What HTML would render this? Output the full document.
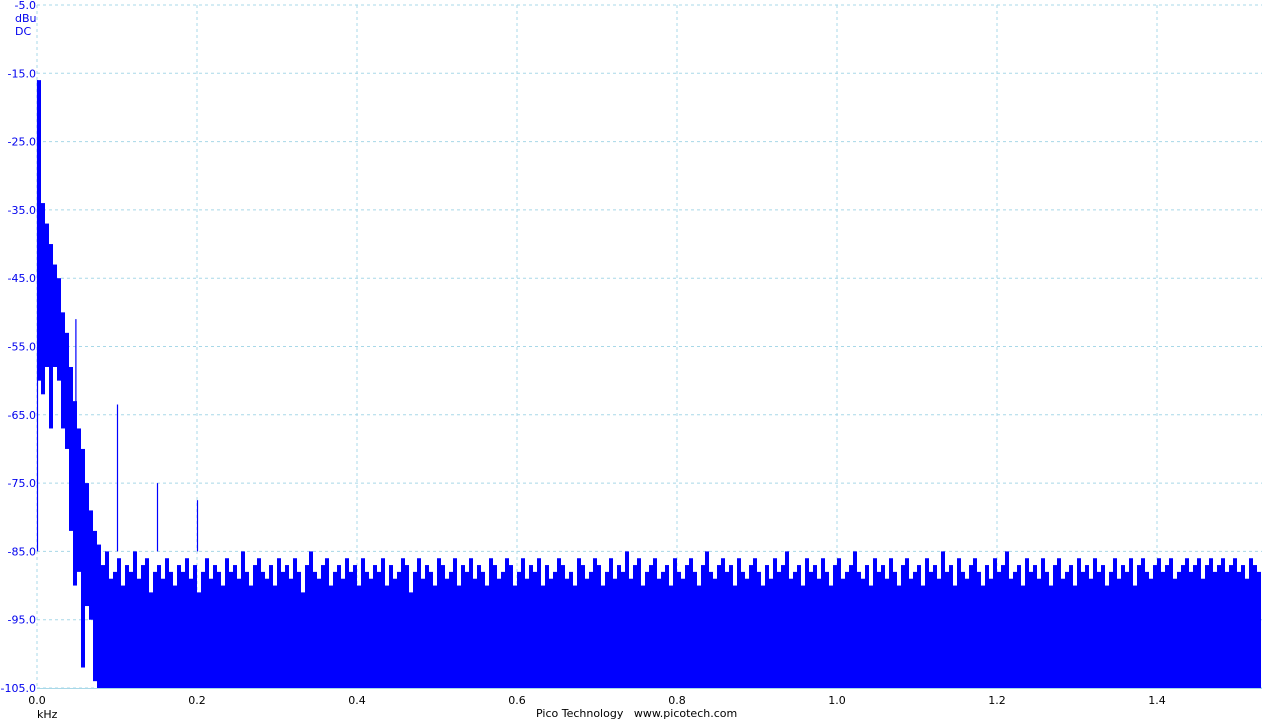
<!DOCTYPE html>
<html><head><meta charset="utf-8"><style>
html,body{margin:0;padding:0;background:#fff;width:1280px;height:720px;overflow:hidden}
svg{display:block}
text{font-family:"DejaVu Sans","Liberation Sans",sans-serif;font-size:11px}
</style></head><body>
<svg id="chart" width="1280" height="720"></svg>
<script>
// Frequency bins every 0.005 kHz; per-bin max/min level (dBu)
const binWidth = 0.005;
const leftMax = [-16,-34,-37,-40,-43,-45,-50,-53,-58,-63,-67,-70,-75,-79,-82,-84];
const leftMin = [-60,-62,-58,-67,-58,-60,-67,-70,-82,-90,-88,-102,-93,-95,-104,-105];
const floorMax = [
-87,-85,-89,-88,-86,-90,-87,-88,-85,-89,-87,-86,-91,-88,-87,-89,-86,-88,-90,-87,
-88,-86,-89,-87,-91,-88,-86,-89,-87,-88,-90,-86,-88,-87,-89,-85,-88,-90,-87,-86,
-88,-89,-87,-90,-86,-88,-87,-89,-86,-88,-91,-87,-85,-88,-89,-87,-86,-90,-88,-87,
-89,-86,-88,-87,-90,-86,-88,-89,-87,-88,-86,-90,-87,-89,-88,-86,-87,-91,-88,-86,
-89,-87,-88,-90,-86,-87,-89,-88,-86,-90,-87,-88,-86,-89,-87,-88,-90,-86,-87,-89,
-88,-86,-87,-90,-88,-86,-89,-87,-88,-86,-90,-87,-89,-88,-86,-87,-89,-88,-90,-86,
-87,-89,-88,-86,-87,-90,-88,-86,-89,-87,-88,-85,-89,-87,-86,-90,-88,-87,-86,-89,
-88,-87,-90,-86,-88,-89,-87,-86,-88,-90,-87,-85,-88,-89,-87,-86,-88,-87,-90,-86,
-88,-89,-87,-86,-88,-90,-87,-89,-86,-88,-87,-85,-89,-88,-87,-90,-86,-88,-87,-89,
-86,-88,-90,-87,-86,-89,-88,-87,-85,-88,-89,-87,-90,-86,-88,-87,-89,-86,-88,-90,
-87,-86,-89,-88,-87,-90,-86,-88,-87,-89,-85,-88,-87,-90,-86,-88,-89,-87,-86,-88,
-90,-87,-89,-86,-88,-87,-85,-89,-88,-87,-90,-86,-88,-87,-89,-86,-88,-90,-87,-86,
-89,-88,-87,-90,-86,-88,-87,-89,-86,-88,-87,-90,-88,-86,-89,-87,-88,-86,-90,-87,
-86,-88,-89,-87,-86,-88,-87,-86,-89,-88,-87,-86,-88,-87,-86,-89,-87,-86,-88,-87,
-86,-88,-87,-86,-88,-87,-89,-86,-87,-88];
const floorMin = -105;
// Discrete tones
const peakFreq = [0.0, 0.048, 0.1, 0.15, 0.2];
const peakLevel = [-16, -51, -63.5, -75, -77.5];
// Axes
const yTicks = [-5,-15,-25,-35,-45,-55,-65,-75,-85,-95,-105];
const xTicks = [0,0.2,0.4,0.6,0.8,1.0,1.2,1.4];
const xMax = 1.53125;

const NS="http://www.w3.org/2000/svg";
const svg=document.getElementById('chart');
const X0=37,X1=1262,Y0=5,Y1=688;
const xs=f=>X0+(f/xMax)*(X1-X0);
const ys=v=>Y0+(-5-v)/100*(Y1-Y0);
function mk(t,a){const e=document.createElementNS(NS,t);for(const k in a)e.setAttribute(k,a[k]);svg.appendChild(e);return e;}

yTicks.forEach((v,i)=>{
  const l=mk('line',{x1:X0,x2:X1,y1:ys(v),y2:ys(v),stroke:'#a8d8e8','stroke-dasharray':'3,3'});
  
  
  const t=mk('text',{x:X0-1,y:ys(v)+4,'text-anchor':'end',fill:'#0000ee'});
  t.textContent=v.toFixed(1);
  
  
});
xTicks.forEach(f=>{
  const l=mk('line',{x1:xs(f),x2:xs(f),y1:Y0,y2:Y1,stroke:'#a8d8e8','stroke-dasharray':'3,3'});
  
  
  const t=mk('text',{x:xs(f),y:704,'text-anchor':'middle',fill:'#000'});
  t.textContent=f.toFixed(1);
  
  
});

const allMax = leftMax.concat(floorMax);
allMax.forEach((v,i)=>{
  const lo=i<leftMin.length?leftMin[i]:floorMin;
  const x=xs(i*binWidth);
  if(x>=X1) return;
  const w=Math.min(xs((i+1)*binWidth),X1)-x;
  const r=mk('rect',{x:x,y:ys(v),width:w,height:ys(lo)-ys(v),fill:'#0000ff'});
  
  
});
peakFreq.forEach((f,i)=>{
  const l=mk('line',{x1:xs(f)+0.5,x2:xs(f)+0.5,y1:ys(peakLevel[i]),y2:ys(-85),stroke:'#0000ff','stroke-width':1.2});
  
  
});
mk('line',{x1:X0,x2:X1,y1:Y1+0.5,y2:Y1+0.5,stroke:'#a8d8e8'});
</script>
<div style="position:absolute;left:15px;top:12px;color:#0000ee;font:11px 'DejaVu Sans',sans-serif;line-height:13px">dBu<br>DC</div>
<div style="position:absolute;left:37px;top:708px;color:#000;font:11px 'DejaVu Sans',sans-serif">kHz</div>
<div style="position:absolute;left:536px;top:707px;color:#000;font:11px 'DejaVu Sans',sans-serif;white-space:pre">Pico Technology   www.picotech.com</div>
</body></html>
